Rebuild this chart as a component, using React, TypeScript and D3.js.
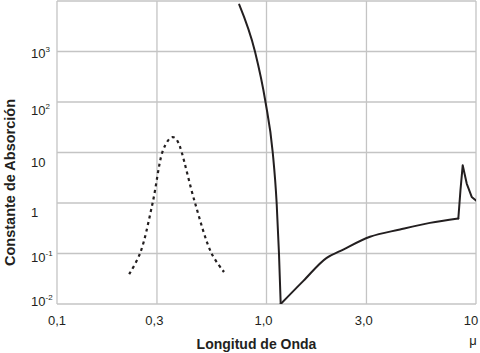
import React from "react";
import * as d3 from "d3";

// Data
const xTickValues = [0.1, 0.3, 1, 3, 10];
const xTickLabels = ["0,1", "0,3", "1,0", "3,0", "10"];
const xTickDx = [0, -2.6, -3, -2.7, -5];

const yTickValues = [0.01, 0.1, 1, 10, 100, 1000];
const yTickBase = ["10", "10", "1", "10", "10", "10"];
const yTickExp = ["-2", "-1", "", "", "2", "3"];
const yTickDy = [2, 8, 14, 14, 13, 6];

// dotted curve (ultraviolet band)
const dottedX = [0.221, 0.249, 0.286, 0.318, 0.338, 0.352, 0.366, 0.38, 0.394, 0.456, 0.547, 0.627];
const dottedY = [0.039, 0.1, 1, 10, 17, 20, 19.5, 15.5, 10, 1, 0.1, 0.043];

// solid curve: descent
const descX = [0.741, 0.881, 0.989, 1.071, 1.118, 1.147, 1.169];
const descY = [8490, 1000, 100, 10, 1, 0.1, 0.01];
// solid curve: rise
const riseX = [1.169, 1.5, 1.938, 2.243, 3.119, 4.338, 6.03, 8.234];
const riseY = [0.01, 0.0287, 0.0822, 0.111, 0.214, 0.299, 0.404, 0.494];
// solid curve: spike
const spikeX = [8.234, 8.43, 8.64, 9.03, 9.54, 10];
const spikeY = [0.494, 1.79, 5.58, 2.43, 1.32, 1.12];

const W = 480;
const H = 353;
const left = 57;
const right = 476;
const top = 1;
const bottom = 304;

const ink = "#231f20";
const grid = "#c4c4c4";

export default function App() {
  const x = d3.scaleLog().domain([0.1, 10]).range([left, right]);
  const y = d3.scaleLog().domain([0.01, 10000]).range([bottom, top]);

  const mono = d3
    .line<[number, number]>()
    .x((d) => x(d[0]))
    .y((d) => y(d[1]))
    .curve(d3.curveMonotoneX);
  const lin = d3
    .line<[number, number]>()
    .x((d) => x(d[0]))
    .y((d) => y(d[1]));

  const zip = (a: number[], b: number[]) => a.map((v, i) => [v, b[i]] as [number, number]);

  const dottedPath = d3
    .line<[number, number]>()
    .x((d) => x(d[0]))
    .y((d) => y(d[1]))
    .curve(d3.curveCatmullRom.alpha(0.5))(zip(dottedX, dottedY));

  const font = "'Liberation Sans', Arial, sans-serif";

  return (
    <svg
      width={W}
      height={H}
      style={{ position: "absolute", left: 0, top: 0, background: "#fff" }}
      fontFamily={font}
    >
      <defs>
        <clipPath id="plot">
          <rect x={left} y={top} width={right - left} height={bottom - top} />
        </clipPath>
      </defs>
      {/* horizontal grid */}
      {yTickValues.map((v) => (
        <line key={"h" + v} x1={left} x2={right} y1={y(v)} y2={y(v)} stroke={grid} strokeWidth={1.3} />
      ))}
      <line x1={left} x2={right} y1={top} y2={top} stroke={grid} strokeWidth={1.3} />
      {/* vertical grid */}
      {xTickValues.map((v) => (
        <line key={"v" + v} x1={x(v)} x2={x(v)} y1={top} y2={bottom} stroke={grid} strokeWidth={1.3} />
      ))}

      <g clipPath="url(#plot)">
        <path
          d={dottedPath || ""}
          fill="none"
          stroke={ink}
          strokeWidth={2.2}
          strokeDasharray="3,3.6"
        />
        <path d={mono(zip(descX, descY)) || ""} fill="none" stroke={ink} strokeWidth={2} strokeLinecap="round" />
        <path d={mono(zip(riseX, riseY)) || ""} fill="none" stroke={ink} strokeWidth={2} strokeLinecap="round" />
        <path d={lin(zip(spikeX, spikeY)) || ""} fill="none" stroke={ink} strokeWidth={2} strokeLinecap="round" strokeLinejoin="round" />
      </g>

      {/* y tick labels */}
      {yTickValues.map((v, i) => (
        <text key={"yl" + v} x={31} y={y(v) + yTickDy[i]} fontSize={13} fill={ink}>
          {yTickBase[i]}
          {yTickExp[i] && (
            <tspan fontSize={8} dy={-6}>
              {yTickExp[i]}
            </tspan>
          )}
        </text>
      ))}

      {/* x tick labels */}
      {xTickValues.map((v, i) => (
        <text key={"xl" + v} x={x(v) + xTickDx[i]} y={325} fontSize={13} fill={ink} textAnchor="middle">
          {xTickLabels[i]}
        </text>
      ))}
      <text x={473} y={345} fontSize={13} fill={ink} textAnchor="middle">
        μ
      </text>

      {/* axis titles */}
      <text x={256.5} y={349} fontSize={14} fontWeight="bold" fill={ink} textAnchor="middle">
        Longitud de Onda
      </text>
      <text
        transform={`translate(15,182.5) rotate(-90)`}
        fontSize={14.5}
        fontWeight="bold"
        fill={ink}
        textAnchor="middle"
      >
        Constante de Absorción
      </text>
    </svg>
  );
}
